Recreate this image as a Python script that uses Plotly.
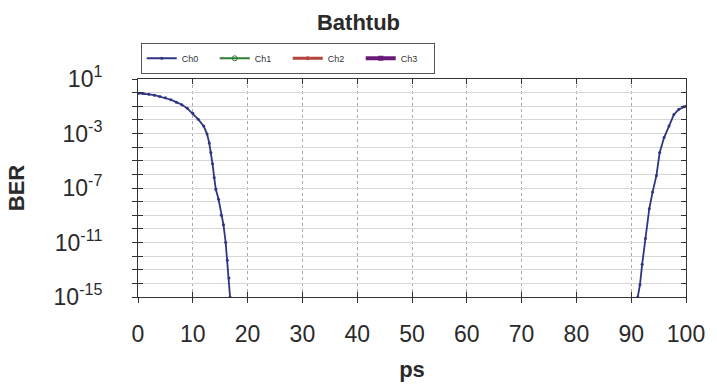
import plotly.graph_objects as go

# ---- data ----
left_ps = [0.0, 1.0, 2.0, 3.0, 4.0, 5.0, 6.0, 7.0, 8.0, 9.0, 10.0, 11.0, 12.0, 12.6,
           13.0, 13.3, 13.6, 13.9, 14.2, 14.7, 15.2, 15.6, 16.0, 16.3, 16.6, 16.8]
left_ber = [0.9, 0.85, 0.75, 0.65, 0.52, 0.42, 0.3, 0.2, 0.13, 0.07, 0.03, 0.011, 3.5e-3, 9e-4,
            2e-4, 4e-5, 6e-6, 6e-7, 8e-8, 1.5e-8, 1e-9, 2e-10, 1e-11, 5e-13, 2.5e-14, 1e-15]
right_ps = [91.2, 91.6, 92.0, 92.6, 93.3, 93.9, 94.6, 95.2, 96.0, 96.9, 97.8, 98.7, 99.6, 100.0]
right_ber = [1e-15, 8e-15, 2.5e-13, 2e-11, 3e-9, 5e-8, 8e-7, 4e-5, 5e-4, 3.5e-3, 0.025, 0.06, 0.09, 0.1]

channels = ["Ch0", "Ch1", "Ch2", "Ch3"]
x_ticks = [0, 10, 20, 30, 40, 50, 60, 70, 80, 90, 100]
y_decades = list(range(1, -16, -1))
y_labeled = [1, -3, -7, -11, -15]

FONT = "Liberation Sans, Arial, sans-serif"
TXT = "#2a2a2a"

ch0_x = left_ps + [None] + right_ps
ch0_y = left_ber + [None] + right_ber

fig = go.Figure()
fig.add_trace(go.Scatter(
    x=ch0_x, y=ch0_y, name=channels[0], mode="lines+markers",
    line=dict(color="#2f3582", width=1.8),
    marker=dict(symbol="circle", size=3, color="#2f3582"),
    connectgaps=False, xaxis="x", yaxis="y"))

other_styles = [
    dict(color="#2e7d32", width=2, symbol="circle-open", msize=5),
    dict(color="#b5443c", width=3, symbol="circle", msize=4),
    dict(color="#6a1b7a", width=4, symbol="square", msize=5),
]
for name, st in zip(channels[1:], other_styles):
    fig.add_trace(go.Scatter(
        x=[None], y=[None], name=name, mode="lines+markers",
        line=dict(color=st["color"], width=st["width"]),
        marker=dict(symbol=st["symbol"], size=st["msize"], color=st["color"]),
        xaxis="x2", yaxis="y2"))

y_tickvals = [10.0 ** k for k in y_decades]
y_ticktext = [("10<sup>%d</sup>" % k) if k in y_labeled else "" for k in y_decades]

axis_line = "#333333"
fig.update_layout(
    width=717, height=390,
    margin=dict(l=138, r=23, t=79, b=91),
    paper_bgcolor="white", plot_bgcolor="white",
    font=dict(family=FONT, color=TXT),
    title=dict(text="<b>Bathtub</b>", x=0.5, xref="container", xanchor="center",
               y=1 - 22 / 390, yref="container", yanchor="middle",
               font=dict(size=22, family=FONT, color=TXT)),
    showlegend=True,
    legend=dict(orientation="h", x=0.005, y=1.024, xanchor="left", yanchor="bottom",
                bgcolor="white", bordercolor="#555555", borderwidth=1,
                font=dict(size=9, family=FONT, color="#333333"),
                itemwidth=30, tracegroupgap=0, entrywidth=28, entrywidthmode="pixels"),
    xaxis=dict(range=[0, 100], tickvals=x_ticks, ticktext=[str(v) for v in x_ticks],
               showgrid=True, gridcolor="#a8a8a8", griddash="dot", gridwidth=1,
               zeroline=False, showline=True, linecolor=axis_line, linewidth=1,
               mirror="ticks", ticks="inside", ticklen=5, tickcolor=axis_line,
               tickfont=dict(size=23, family=FONT, color=TXT),
               ticklabelstandoff=16,
               title=dict(text="<b>ps</b>", font=dict(size=22, family=FONT, color=TXT),
                          standoff=16)),
    xaxis2=dict(range=[0, 100], overlaying="x", side="bottom", tickvals=x_ticks,
                showticklabels=False, showgrid=False, zeroline=False, showline=False,
                ticks="outside", ticklen=5, tickcolor=axis_line),
    yaxis=dict(type="log", range=[-15, 1], tickvals=y_tickvals, ticktext=y_ticktext,
               showgrid=True, gridcolor="#d6d6d6", gridwidth=1, zeroline=False,
               showline=True, linecolor=axis_line, linewidth=1,
               mirror="ticks", ticks="inside", ticklen=5, tickcolor=axis_line,
               tickfont=dict(size=23, family=FONT, color=TXT),
               ticklabelstandoff=30,
               title=dict(text="<b>BER</b>", font=dict(size=22, family=FONT, color=TXT),
                          standoff=22)),
    yaxis2=dict(type="log", range=[-15, 1], overlaying="y", side="left", tickvals=y_tickvals,
                showticklabels=False, showgrid=False, zeroline=False, showline=False,
                ticks="outside", ticklen=5, tickcolor=axis_line),
)

fig.write_html("out.html")
